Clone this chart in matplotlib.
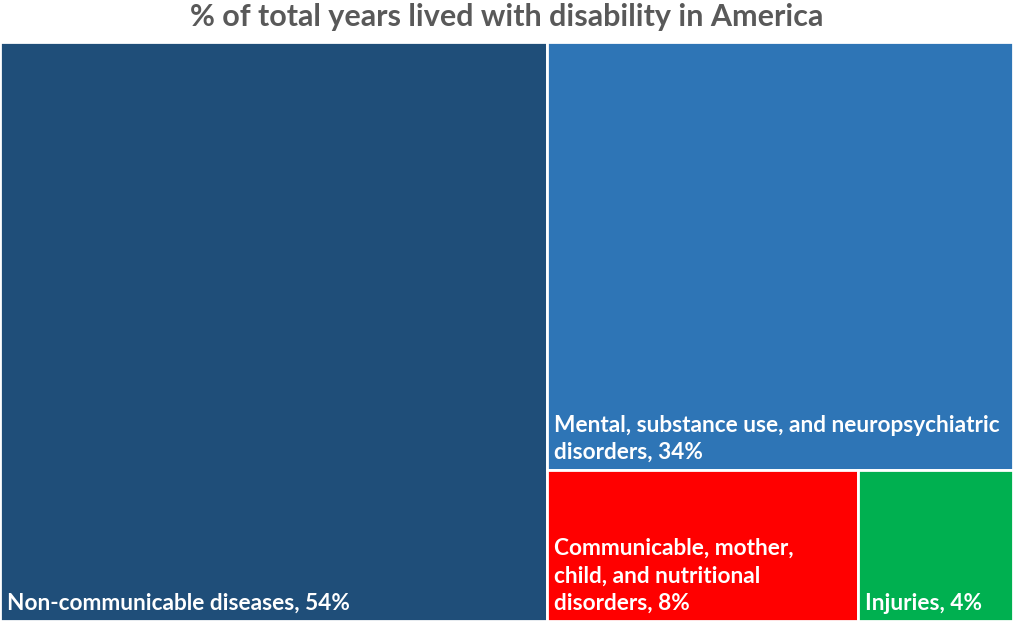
import matplotlib
matplotlib.use("Agg")
import matplotlib.pyplot as plt
from matplotlib.patches import Rectangle

# ── Data ─────────────────────────────────────────────────────
categories = ["Non-communicable diseases",
              "Mental, substance use, and neuropsychiatric\ndisorders",
              "Communicable, mother,\nchild, and nutritional\ndisorders",
              "Injuries"]
values = [54, 34, 8, 4]
colors = ["#1F4E79", "#2E75B6", "#FF0000", "#00B050"]

plt.rcParams['font.family'] = ['Lato', 'DejaVu Sans']

# ── Slice-and-dice layout: column, then rows, then columns ───
def layout(vals):
    total = sum(vals)
    rects = []
    x0 = vals[0] / total
    rects.append((0, 0, x0, 1))
    rest = total - vals[0]
    h = vals[1] / rest
    rects.append((x0, 1 - h, 1 - x0, h))
    bottom = rest - vals[1]
    w2 = (1 - x0) * vals[2] / bottom
    rects.append((x0, 0, w2, 1 - h))
    rects.append((x0 + w2, 0, 1 - x0 - w2, 1 - h))
    return rects

W, H = 1013, 621
fig = plt.figure(figsize=(W / 100, H / 100), dpi=100)
ax = fig.add_axes([0, 0, 1, 579 / H])
ax.set_xlim(0, 1); ax.set_ylim(0, 1); ax.axis("off")

for (x, y, w, h), c, lab, v in zip(layout(values), colors, categories, values):
    ax.add_patch(Rectangle((x, y), w, h, facecolor=c, edgecolor="white", lw=2))
    ax.annotate(f"{lab}, {v}%", (x, y), xytext=(5, 5), textcoords="offset points",
                ha="left", va="bottom", color="white", fontsize=16.3,
                fontweight="bold", linespacing=1.38)

fig.text(0.5, 1 - 17 / H, "% of total years lived with disability in America",
         ha="center", va="center", fontsize=22, fontweight="bold", color="#595959")

plt.savefig("out.png", dpi=100)
